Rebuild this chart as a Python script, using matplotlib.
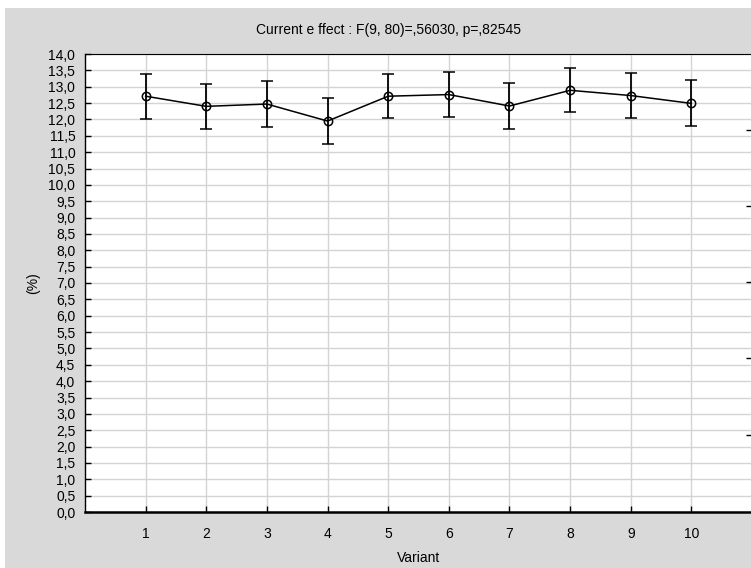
import matplotlib.pyplot as plt
from matplotlib.patches import Rectangle

plt.rcParams['font.family'] = ['Liberation Sans', 'DejaVu Sans']

# data
variants = [1, 2, 3, 4, 5, 6, 7, 8, 9, 10]
means = [12.71, 12.40, 12.47, 11.95, 12.71, 12.76, 12.41, 12.89, 12.73, 12.49]
errs = [0.69, 0.69, 0.70, 0.70, 0.67, 0.69, 0.69, 0.67, 0.69, 0.70]
yticks = [i * 0.5 for i in range(29)]
ytick_labels = [('%.1f' % t).replace('.', ',') for t in yticks]
title = "Current e ffect : F(9, 80)=,56030, p=,82545"

fig = plt.figure(figsize=(7.51, 5.68), dpi=100)
fig.patch.set_facecolor('white')
# grey panel (white strip at top and left)
fig.add_artist(Rectangle((5 / 751, 0), 1, (568 - 8) / 568, transform=fig.transFigure,
                         facecolor='#d9d9d9', edgecolor='none', zorder=-10))

W, H = 751, 568
left, right, top, bottom = 85, 752, 54, 512
ax = fig.add_axes([left / W, (H - bottom) / H, (right - left) / W, (bottom - top) / H])
ax.set_facecolor('white')

ax.errorbar(variants, means, yerr=errs, color='black', lw=1.1, elinewidth=1.3,
            capsize=4, capthick=1.3, marker='o', markersize=6,
            markerfacecolor='none', markeredgecolor='black', markeredgewidth=1.1)

ax.set_xlim(0, 11)
ax.set_ylim(0, 14)
ax.set_xticks(variants)
ax.set_yticks(yticks)
ax.set_yticklabels(ytick_labels)
ax.grid(True, color='#d4d4d4', lw=1)
ax.set_axisbelow(True)

ax.tick_params(axis='both', direction='in', length=4, width=1, labelsize=10, colors='black')
ax.tick_params(axis='y', pad=7)
ax.tick_params(axis='x', pad=11)

ax.spines['right'].set_visible(False)
ax.spines['top'].set_linewidth(0.8)
ax.spines['left'].set_linewidth(1)
ax.spines['bottom'].set_linewidth(1.8)

# right-hand axis ticks, only their ends show at the crop edge
ax2 = ax.twinx()
ax2.set_ylim(0, 14)
ax2.set_yticks([2.35, 4.71, 7.03, 9.36, 11.68])
ax2.set_yticklabels([])
ax2.tick_params(axis='y', direction='in', length=4, width=1)
for s in ax2.spines.values():
    s.set_visible(False)

ax.set_xlabel('Variant', fontsize=10, labelpad=7)
ax.set_ylabel('(%)', fontsize=10, labelpad=6)

fig.text(388 / W, 1 - 30 / H, title, ha='center', va='center', fontsize=10)

plt.savefig('out.png', dpi=100)
